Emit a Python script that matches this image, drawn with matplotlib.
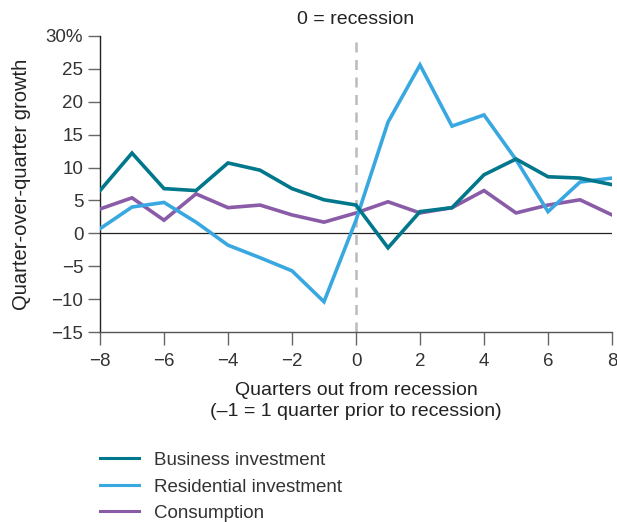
import matplotlib
matplotlib.use('Agg')
import matplotlib.pyplot as plt
from matplotlib.lines import Line2D

plt.rcParams['font.family'] = ['Liberation Sans', 'DejaVu Sans']

quarters = list(range(-8, 9))
business = [6.5, 12.2, 6.8, 6.5, 10.7, 9.6, 6.8, 5.1, 4.3, -2.2, 3.3, 3.9, 8.9, 11.3, 8.6, 8.4, 7.4]
residential = [0.7, 4.0, 4.7, 1.7, -1.8, -3.7, -5.7, -10.4, 2.0, 16.9, 25.6, 16.3, 18.0, 11.2, 3.3, 7.8, 8.4]
consumption = [3.7, 5.4, 2.0, 6.0, 3.9, 4.3, 2.8, 1.7, 3.1, 4.8, 3.1, 3.9, 6.5, 3.1, 4.3, 5.1, 2.8]

series_names = ['Business investment', 'Residential investment', 'Consumption']
colors = ['#00778a', '#3aa8e0', '#8a5ca8']
yticks = [-15, -10, -5, 0, 5, 10, 15, 20, 25, 30]
ytick_labels = ['\u221215', '\u221210', '\u22125', '0', '5', '10', '15', '20', '25', '30%']
xticks = [-8, -6, -4, -2, 0, 2, 4, 6, 8]

TEXT = '#333333'
fig = plt.figure(figsize=(6.17, 5.22), dpi=100)
ax = fig.add_axes([100 / 617, 1 - 332 / 522, 512 / 617, 296 / 522])

ax.axvline(0, color='#bbbbbb', lw=1.8, ls=(0, (4, 3)), zorder=1, clip_on=False)
ax.axhline(0, color='#222222', lw=0.9, zorder=1)

for vals, c in zip([consumption, residential, business], [colors[2], colors[1], colors[0]]):
    ax.plot(quarters, vals, color=c, lw=2.6, zorder=3, solid_joinstyle='miter')

ax.set_xlim(-8, 8)
ax.set_ylim(-15, 30)
ax.set_yticks(yticks)
ax.set_yticklabels(ytick_labels)
ax.set_xticks(xticks)
ax.set_xticklabels([str(t).replace('-', '\u2212') for t in xticks])

for s in ['top', 'right']:
    ax.spines[s].set_visible(False)
ax.spines['left'].set_color('#222222')
ax.spines['bottom'].set_color('#555555')
ax.spines['left'].set_linewidth(1.0)
ax.spines['bottom'].set_linewidth(1.0)
ax.tick_params(axis='both', direction='out', length=9, width=1, color='#666666',
               labelsize=13.5, labelcolor=TEXT)
ax.tick_params(axis='y', pad=3)
ax.tick_params(axis='x', pad=6)

ax.set_ylabel('Quarter-over-quarter growth', fontsize=14.5, color='#222222', labelpad=11)
ax.set_xlabel('Quarters out from recession\n(\u20131 = 1 quarter prior to recession)',
              fontsize=14, color='#222222', labelpad=9, linespacing=1.25)
ax.text(0, 1.028, '0 = recession', transform=ax.get_xaxis_transform(),
        ha='center', va='bottom', fontsize=14, color='#222222')

handles = [Line2D([0], [0], color=c, lw=2.2) for c in colors]
fig.legend(handles, series_names, loc='upper left', bbox_to_anchor=(83 / 617, 1 - 435 / 522),
           frameon=False, fontsize=13.5, handlelength=2.1, handletextpad=0.8,
           labelspacing=0.5, labelcolor=TEXT)

fig.savefig('out.png', dpi=100)
